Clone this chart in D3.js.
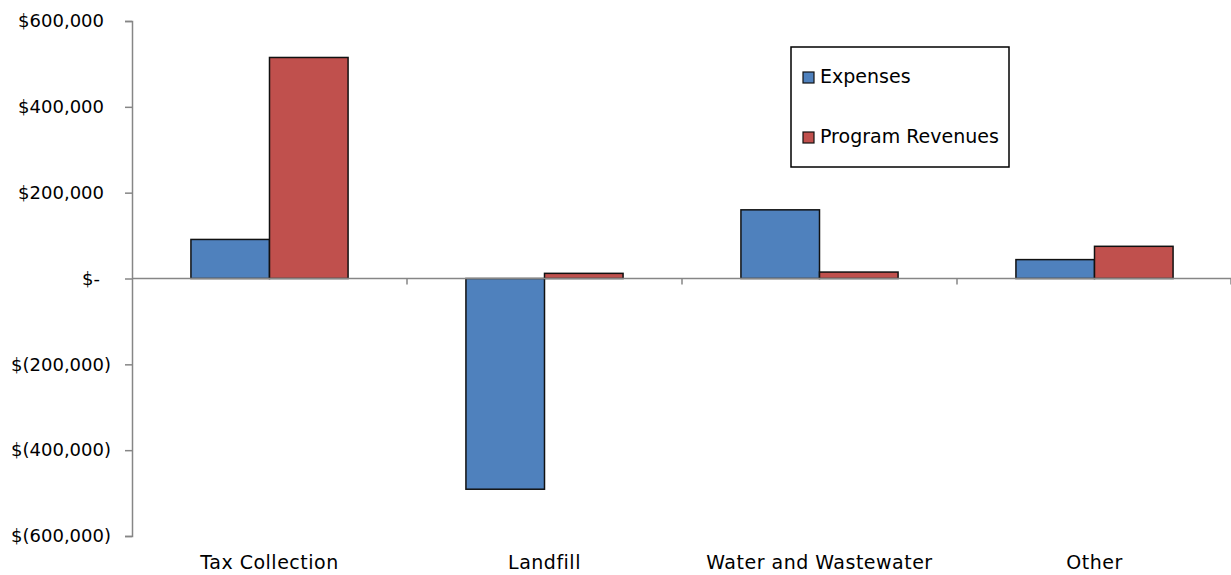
<!DOCTYPE html>
<html>
<head>
<meta charset="utf-8">
<script src="https://cdn.jsdelivr.net/npm/d3@7"></script>
<style>
  html, body { margin: 0; padding: 0; background: #fff; }
  svg { display: block; }
  text { font-family: "DejaVu Sans", sans-serif; fill: #000; }
</style>
</head>
<body>
<svg id="chart" width="1231" height="575"></svg>
<script>
// Expenses vs. program revenues by function
const categories = ["Tax Collection", "Landfill", "Water and Wastewater", "Other"];
const seriesNames = ["Expenses", "Program Revenues"];
const expenses = [91000, -491000, 160000, 44000];
const programRevenues = [515000, 12000, 15000, 75000];
const yTicks = [600000, 400000, 200000, 0, -200000, -400000, -600000];

const colors = ["#4F81BD", "#C0504D"];
const seriesValues = [expenses, programRevenues];

const W = 1231, H = 575;
const plot = { left: 132, right: 1232, top: 21, bottom: 536 };

const svg = d3.select("#chart");

const x = d3.scaleBand().domain(categories).range([plot.left, plot.right]).padding(0);
const xs = d3.scaleBand().domain(seriesNames).range([0, x.bandwidth()])
  .paddingInner(0).paddingOuter(0.75);
const y = d3.scaleLinear().domain([-600000, 600000]).range([plot.bottom, plot.top]);

// Accounting-style currency labels
const num = d3.format(",");
function money(v) {
  if (v === 0) return "$-";
  if (v < 0) return "$(" + num(-v) + ")";
  return "$" + num(v);
}

// Y axis
const yAxis = svg.append("g")
  .attr("transform", `translate(${plot.left},0)`)
  .call(d3.axisLeft(y).tickValues(yTicks).tickFormat(money).tickSize(7).tickPadding(14));
yAxis.select(".domain").attr("stroke", "#868686").attr("stroke-width", 1.5);
yAxis.selectAll(".tick line").attr("stroke", "#868686").attr("stroke-width", 1.5);
yAxis.selectAll(".tick text")
  .attr("font-size", 18)
  .style("font-family", '"DejaVu Sans", sans-serif')
  .attr("dx", d => d > 0 ? -7 : (d === 0 ? -11 : 0));

// Bars
const groups = svg.append("g").selectAll("g")
  .data(categories)
  .join("g")
  .attr("transform", d => `translate(${x(d)},0)`);

groups.selectAll("rect")
  .data((c, i) => seriesNames.map((s, j) => ({ series: s, value: seriesValues[j][i], j })))
  .join("rect")
  .attr("x", d => xs(d.series))
  .attr("width", xs.bandwidth())
  .attr("y", d => Math.min(y(d.value), y(0)))
  .attr("height", d => Math.abs(y(d.value) - y(0)))
  .attr("fill", d => colors[d.j])
  .attr("stroke", "#111")
  .attr("stroke-width", 1.5);

// Category axis along zero
const xAxis = svg.append("g")
  .attr("transform", `translate(0,${y(0)})`);
xAxis.append("line")
  .attr("x1", plot.left).attr("x2", W)
  .attr("stroke", "#868686").attr("stroke-width", 1.5);
xAxis.selectAll("line.cat")
  .data(categories.slice(1).map(c => x(c)).concat([plot.right - 1]))
  .join("line")
  .attr("class", "cat")
  .attr("x1", d => d).attr("x2", d => d)
  .attr("y1", 0).attr("y2", 6)
  .attr("stroke", "#868686").attr("stroke-width", 1.5);

// Category labels at the bottom
svg.append("g").selectAll("text")
  .data(categories)
  .join("text")
  .attr("x", d => x(d) + x.bandwidth() / 2)
  .attr("y", 569)
  .attr("text-anchor", "middle")
  .attr("font-size", 19)
  .attr("letter-spacing", 0.5)
  .text(d => d);

// Legend
const legend = svg.append("g").attr("transform", "translate(791,47)");
legend.append("rect")
  .attr("width", 218).attr("height", 120)
  .attr("fill", "#fff").attr("stroke", "#000").attr("stroke-width", 1.5);
const li = legend.selectAll("g.item")
  .data(seriesNames)
  .join("g")
  .attr("class", "item")
  .attr("transform", (d, i) => `translate(12,${25 + i * 60})`);
li.append("rect")
  .attr("width", 11).attr("height", 11)
  .attr("fill", (d, i) => colors[i])
  .attr("stroke", "#111").attr("stroke-width", 1.2);
li.append("text")
  .attr("x", 17).attr("y", 11)
  .attr("font-size", 19)
  .text(d => d);
</script>
</body>
</html>
